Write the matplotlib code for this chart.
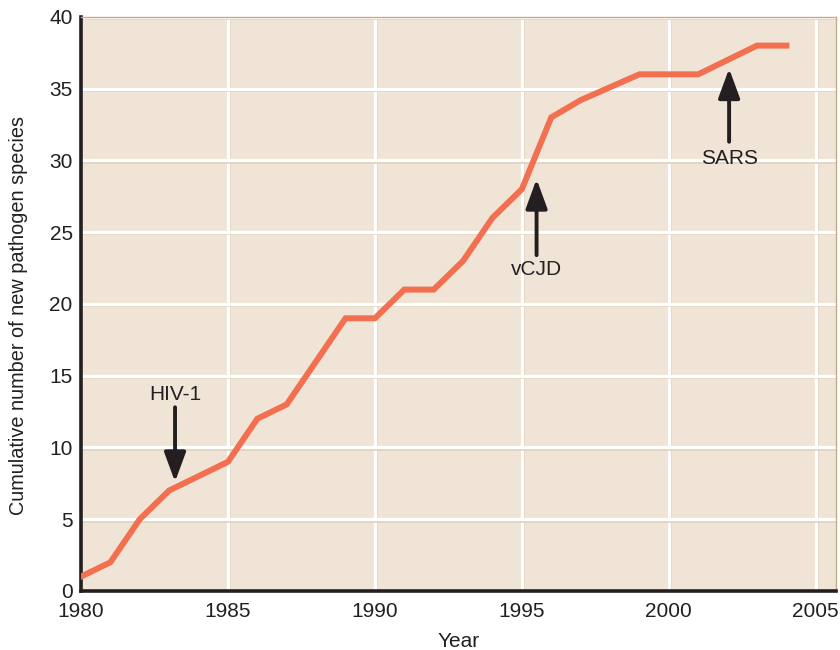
import matplotlib
matplotlib.use('Agg')
from matplotlib import pyplot as plt

years = list(range(1980, 2005))
cumulative = [1, 2, 5, 7, 8, 9, 12, 13, 16, 19, 19, 21, 21, 23, 26, 28,
              33, 34.2, 35.1, 36, 36, 36, 37, 38, 38]

x_ticks = [1980, 1985, 1990, 1995, 2000, 2005]
y_ticks = [0, 5, 10, 15, 20, 25, 30, 35, 40]

# label, arrow x, tail y, tip y, text y
events = [
    ('HIV-1', 1983.2, 12.8, 7.6, 13.7),
    ('vCJD', 1995.5, 23.4, 28.7, 22.4),
    ('SARS', 2002.05, 31.3, 36.4, 30.1),
]

plt.rcParams['font.family'] = ['Liberation Sans', 'DejaVu Sans']
fs = 15

fig = plt.figure(figsize=(8.4, 6.5), dpi=100)
ax = fig.add_axes([0.0964, 0.0908, 0.8986, 0.8832])
ax.set_facecolor('#f0e4d7')

ax.set_xlim(1980, 2005.68)
ax.set_ylim(0, 40)

# grid: tan shadow under white line
for xv in x_ticks[1:]:
    ax.axvline(xv + 0.05, color='#e2d2bc', lw=2.6, zorder=1)
    ax.axvline(xv, color='white', lw=2.3, zorder=1)
for yv in y_ticks[1:]:
    ax.axhline(yv - 0.09, color='#e2d2bc', lw=2.6, zorder=1)
    ax.axhline(yv, color='white', lw=2.3, zorder=1)

ax.plot(years, cumulative, color='#f26f50', lw=4.3, solid_joinstyle='miter', zorder=3)

for label, xa, tail, tip, ty in events:
    ax.annotate('', xy=(xa, tip), xytext=(xa, tail),
                arrowprops=dict(arrowstyle='-|>,head_length=0.6,head_width=0.22', lw=2.8,
                                color='#231f20', mutation_scale=30, shrinkA=0, shrinkB=0),
                zorder=4)
    ax.text(xa, ty, label, ha='center', va='center', fontsize=fs, color='#231f20', zorder=4)

ax.set_xticks(x_ticks)
ax.set_yticks(y_ticks)
ax.tick_params(axis='x', length=0, labelsize=fs, colors='#231f20', pad=8)
ax.tick_params(axis='y', length=0, labelsize=fs, colors='#231f20', pad=6)

for side in ['left', 'bottom']:
    ax.spines[side].set_linewidth(2.6)
    ax.spines[side].set_color('#231f20')
for side in ['top', 'right']:
    ax.spines[side].set_linewidth(1.0)
    ax.spines[side].set_color('#c9a983')

ax.set_xlabel('Year', fontsize=fs, color='#231f20', labelpad=8)
ax.set_ylabel('Cumulative number of new pathogen species', fontsize=14.3, color='#231f20')
ax.yaxis.set_label_coords(-0.07, 0.48)

fig.savefig('out.png', dpi=100)
